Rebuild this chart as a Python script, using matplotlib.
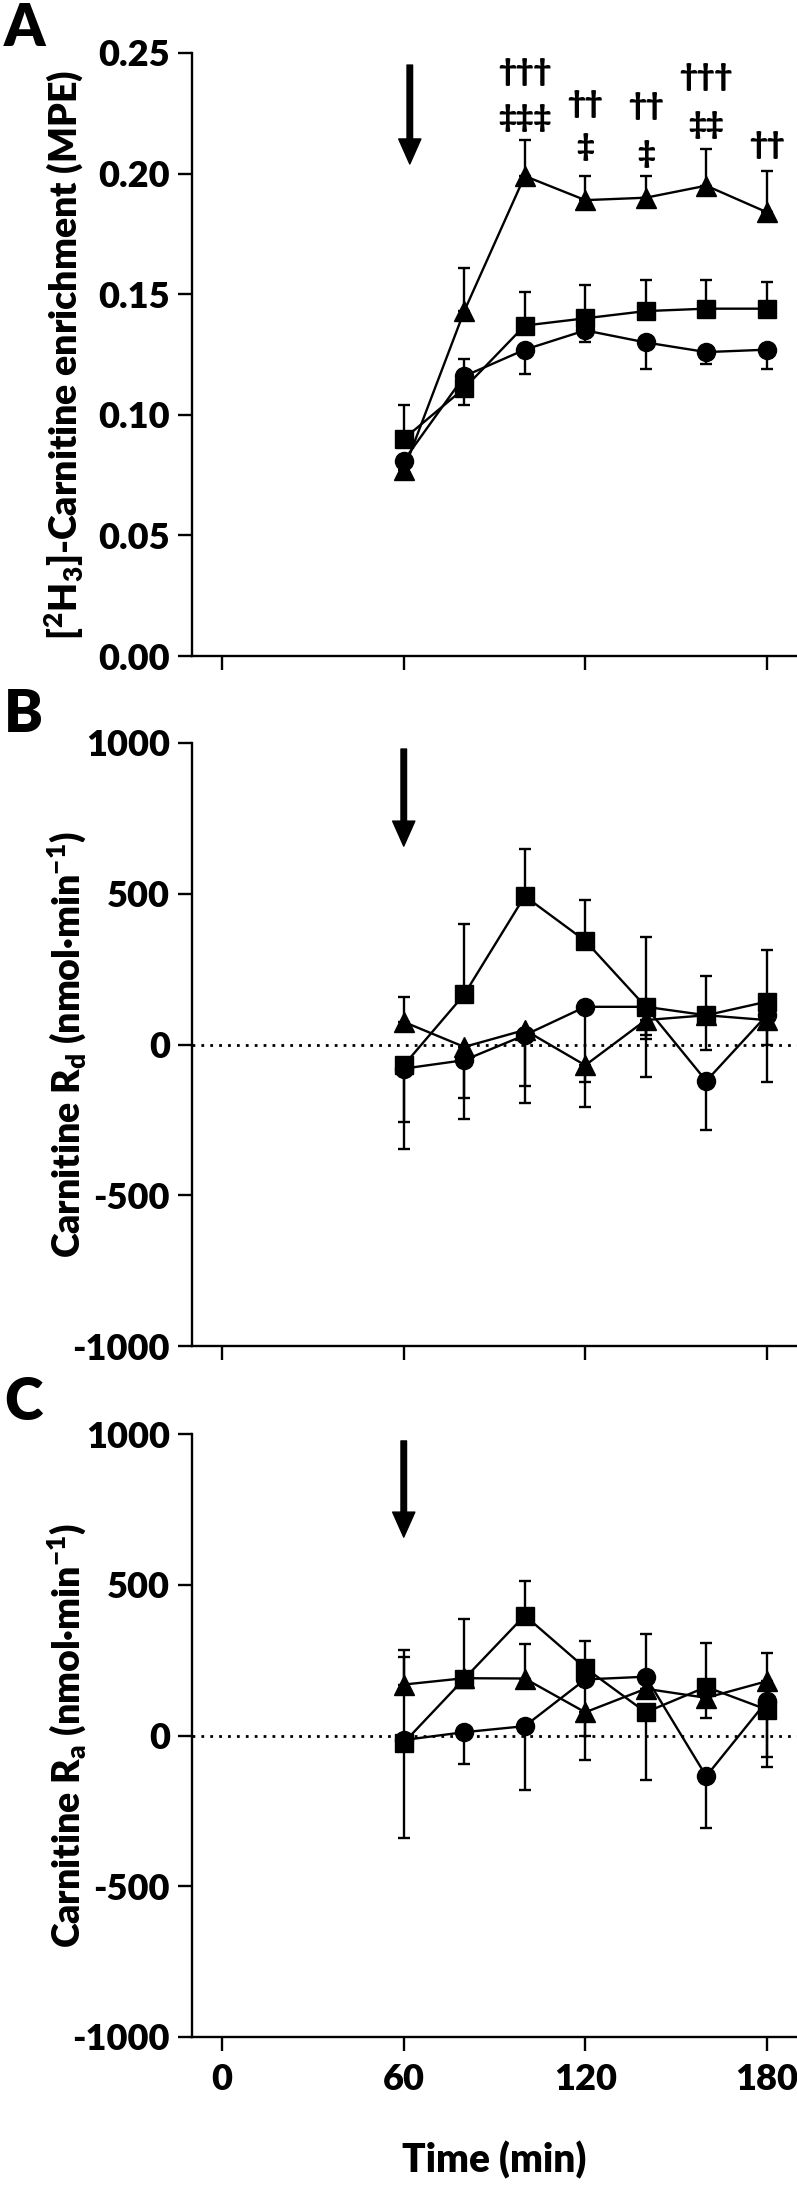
import numpy as np
import matplotlib
matplotlib.use("Agg")
import matplotlib.pyplot as plt

plt.rcParams['font.family'] = ['Lato', 'DejaVu Sans']
plt.rcParams['font.weight'] = 'heavy'
plt.rcParams['axes.labelweight'] = 'heavy'
plt.rcParams['axes.unicode_minus'] = False
plt.rcParams['mathtext.fontset'] = 'custom'
plt.rcParams['mathtext.rm'] = 'Lato:heavy'
plt.rcParams['mathtext.it'] = 'Lato:heavy'
plt.rcParams['mathtext.bf'] = 'Lato:heavy'

nan = np.nan
time = [60, 80, 100, 120, 140, 160, 180]

# Panel A: [2H3]-carnitine enrichment (MPE); hi/lo = error bar ends
a_tri = [0.077, 0.143, 0.199, 0.189, 0.190, 0.195, 0.184]
a_tri_hi = [nan, 0.161, 0.214, 0.199, 0.199, 0.210, 0.201]
a_sq = [0.090, 0.111, 0.137, 0.140, 0.143, 0.144, 0.144]
a_sq_hi = [0.104, 0.123, 0.151, 0.154, 0.156, 0.156, 0.155]
a_ci = [0.081, 0.116, 0.127, 0.135, 0.130, 0.126, 0.127]
a_ci_lo = [nan, 0.104, 0.117, 0.130, 0.119, 0.121, 0.119]

# significance marks above panel A
sig_x = [100, 100, 120, 120, 140, 140, 160, 160, 180]
sig_y = [0.242, 0.223, 0.229, 0.211, 0.228, 0.208, 0.240, 0.220, 0.212]
sig_txt = ['†††', '‡‡‡', '††', '‡', '††', '‡', '†††', '‡‡', '††']

# Panel B: carnitine Rd (nmol/min)
b_sq = [-69, 166, 492, 344, 125, 97, 142]
b_sq_hi = [nan, 399, 648, 478, 358, 228, 315]
b_sq_lo = [-257, nan, nan, nan, 18, -17, nan]
b_ci = [-80, -52, 31, 125, 125, -121, 97]
b_ci_lo = [-348, -248, -194, -207, -107, -285, -126]
b_tri = [75, -8, 48, -69, 81, 97, 81]
b_tri_hi = [158, nan, nan, nan, nan, nan, nan]
b_tri_lo = [nan, -176, -137, -126, 30, nan, -2]

# Panel C: carnitine Ra (nmol/min)
c_sq = [-24, 188, 398, 224, 77, 161, 86]
c_sq_hi = [nan, 387, 514, 313, nan, 307, nan]
c_sq_lo = [-339, nan, nan, nan, -146, nan, -104]
c_tri = [169, 190, 189, 77, 155, 125, 180]
c_tri_hi = [285, nan, 302, nan, nan, nan, 272]
c_tri_lo = [nan, nan, nan, -2, nan, 59, nan]
c_ci = [-15, 11, 31, 186, 195, -135, 114]
c_ci_hi = [261, nan, nan, nan, 335, nan, nan]
c_ci_lo = [nan, -94, -181, -80, nan, -306, -71]


def errs(val, lo=None, hi=None):
    v = np.array(val, float)
    l = np.zeros_like(v) if lo is None else np.nan_to_num(v - np.array(lo, float), nan=0.0)
    h = np.zeros_like(v) if hi is None else np.nan_to_num(np.array(hi, float) - v, nan=0.0)
    return [l, h]


def series(ax, val, marker, ms, lo=None, hi=None):
    ax.errorbar(time, val, yerr=errs(val, lo, hi), fmt='none', ecolor='black',
                elinewidth=1.7, capsize=4, capthick=1.7, zorder=2)
    ax.plot(time, val, color='black', lw=1.7, marker=marker, ms=ms, zorder=3)


def style(ax, ylim, yticks, fmt):
    ax.set_xlim(-10, 190)
    ax.set_ylim(*ylim)
    ax.set_yticks(yticks)
    ax.set_yticklabels([fmt.format(t) for t in yticks])
    ax.set_xticks([0, 60, 120, 180])
    for s in ['top', 'right']:
        ax.spines[s].set_visible(False)
    for s in ['left', 'bottom']:
        ax.spines[s].set_linewidth(1.7)
    ax.tick_params(width=1.7, length=10, labelsize=26, pad=6)
    ax.tick_params(axis='x', pad=9)


def arrow(ax, x, y0, y1):
    ax.annotate('', xy=(x, y1), xytext=(x, y0),
                arrowprops=dict(facecolor='black', edgecolor='black', width=4, headwidth=16,
                                headlength=18, shrink=0))


fig = plt.figure(figsize=(7.97, 21.89), dpi=100)
H = 2189.0
left = 192 / 797
w = 1 - left
h = 603 / H
axA = fig.add_axes([left, 1 - 656 / H, w, h])
axB = fig.add_axes([left, 1 - 1346 / H, w, h])
axC = fig.add_axes([left, 1 - 2037 / H, w, h])

# A
series(axA, a_tri, '^', 14, hi=a_tri_hi)
series(axA, a_sq, 's', 12.5, hi=a_sq_hi)
series(axA, a_ci, 'o', 13, lo=a_ci_lo)
style(axA, (0, 0.25), [0, 0.05, 0.10, 0.15, 0.20, 0.25], '{:.2f}')
axA.set_xticklabels([])
for x, y, t in zip(sig_x, sig_y, sig_txt):
    axA.text(x, y, t, ha='center', va='center', fontsize=22)
arrow(axA, 62, 0.245, 0.204)
axA.set_ylabel(r'[$^{2}$H$_{3}$]-Carnitine enrichment (MPE)', fontsize=27)
axA.yaxis.set_label_coords(-0.175, 0.5)

# B
axB.axhline(0, color='black', lw=2, ls=(0, (1, 2.2)), zorder=1)
series(axB, b_tri, '^', 14, lo=b_tri_lo, hi=b_tri_hi)
series(axB, b_sq, 's', 12.5, lo=b_sq_lo, hi=b_sq_hi)
series(axB, b_ci, 'o', 13, lo=b_ci_lo)
style(axB, (-1000, 1000), [-1000, -500, 0, 500, 1000], '{:d}')
axB.set_xticklabels([])
arrow(axB, 60, 980, 658)
axB.set_ylabel(r'Carnitine R$_{d}$ (nmol·min$^{-1}$)', fontsize=27)
axB.yaxis.set_label_coords(-0.17, 0.5)

# C
axC.axhline(0, color='black', lw=2, ls=(0, (1, 2.2)), zorder=1)
series(axC, c_tri, '^', 14, lo=c_tri_lo, hi=c_tri_hi)
series(axC, c_sq, 's', 12.5, lo=c_sq_lo, hi=c_sq_hi)
series(axC, c_ci, 'o', 13, lo=c_ci_lo, hi=c_ci_hi)
style(axC, (-1000, 1000), [-1000, -500, 0, 500, 1000], '{:d}')
arrow(axC, 60, 977, 658)
axC.set_ylabel(r'Carnitine R$_{a}$ (nmol·min$^{-1}$)', fontsize=27)
axC.yaxis.set_label_coords(-0.17, 0.5)
axC.set_xlabel('Time (min)', fontsize=28, labelpad=32)

for lab, yp in [('A', 28), ('B', 714), ('C', 1402)]:
    fig.text(4 / 797, 1 - yp / H, lab, fontsize=42, va='center', ha='left')

fig.savefig('out.png', dpi=100)
